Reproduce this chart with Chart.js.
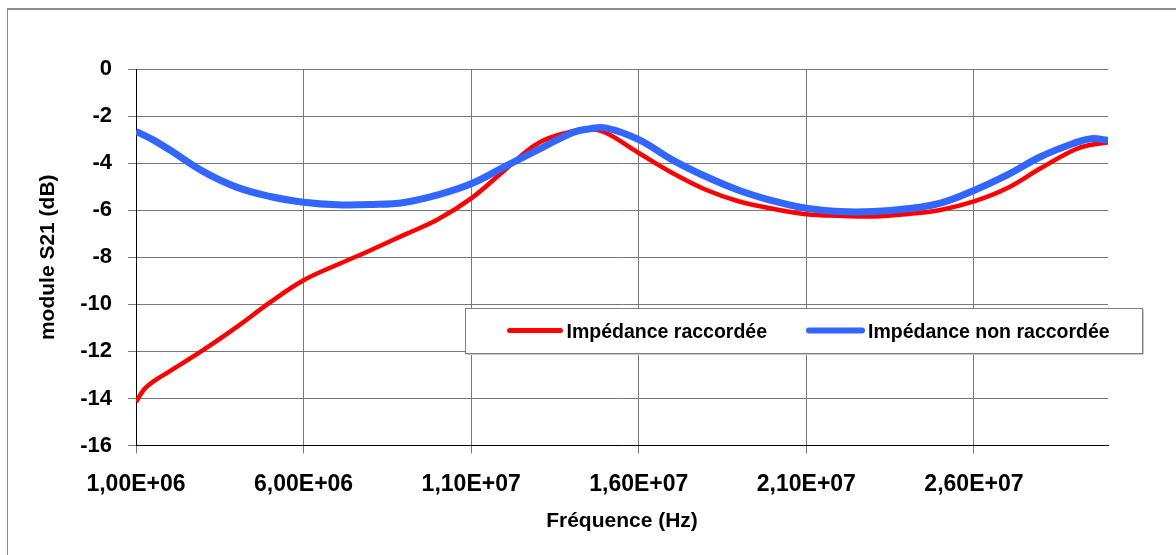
<!DOCTYPE html>
<html><head><meta charset="utf-8">
<script src="https://cdn.jsdelivr.net/npm/chart.js@4"></script>
<style>
html,body{margin:0;padding:0;background:#fff;overflow:hidden;width:1176px;height:555px}
#frame{position:absolute;left:7px;top:8px;width:1300px;height:700px;border-style:solid;border-color:#8c8c8c;border-width:2px 0 0 1px;}
#wrap{position:absolute;left:0;top:0;width:1176px;height:555px}
</style></head><body>
<div id="frame"></div>
<div id="wrap"><canvas id="c" width="1176" height="555"></canvas></div>
<script>
// Frequencies (Hz)
const frequencies = [1e6, 1.25e6, 1.5e6, 2e6, 3e6, 4e6, 5e6, 6e6, 7e6, 8e6, 9e6, 1e7, 1.1e7, 1.2e7, 1.3e7, 1.4e7, 1.45e7, 1.5e7, 1.6e7, 1.7e7, 1.8e7, 1.9e7, 2e7, 2.1e7, 2.2e7, 2.3e7, 2.4e7, 2.5e7, 2.6e7, 2.7e7, 2.8e7, 2.9e7, 2.95e7, 3e7];
// module S21 (dB) - Impédance raccordée
const raccordee = [-14.15, -13.6, -13.3, -12.85, -11.95, -10.97, -9.92, -8.98, -8.32, -7.7, -7.05, -6.4, -5.5, -4.3, -3.15, -2.65, -2.55, -2.7, -3.57, -4.42, -5.13, -5.63, -5.94, -6.17, -6.24, -6.27, -6.17, -5.99, -5.63, -5.06, -4.21, -3.43, -3.22, -3.12];
// module S21 (dB) - Impédance non raccordée
const nonRaccordee = [-2.65, -2.82, -3.0, -3.43, -4.35, -5.02, -5.42, -5.66, -5.77, -5.76, -5.67, -5.35, -4.88, -4.15, -3.43, -2.72, -2.55, -2.5, -3.0, -3.86, -4.57, -5.16, -5.6, -5.92, -6.06, -6.06, -5.94, -5.7, -5.16, -4.5, -3.72, -3.15, -2.96, -3.03];

const seriesNames = ["Impédance raccordée", "Impédance non raccordée"];
const seriesColors = ["#ff0000", "#3366ff"];
const xTickValues = [1e6, 6e6, 1.1e7, 1.6e7, 2.1e7, 2.6e7];
const xTickLabels = ["1,00E+06", "6,00E+06", "1,10E+07", "1,60E+07", "2,10E+07", "2,60E+07"];
const xTitle = "Fréquence (Hz)";
const yTitle = "module S21 (dB)";

const FONT = '"Liberation Sans", Arial, sans-serif';

const toPts = (vals) => frequencies.map((f, i) => ({x: f, y: vals[i]}));

const legendPlugin = {
  id: 'boxLegend',
  afterDraw(chart) {
    const ctx = chart.ctx;
    const bx = 465.5, by = 308.5, bw = 677, bh = 45;
    ctx.save();
    ctx.strokeStyle = '#c8c8c8';
    ctx.lineWidth = 1;
    ctx.beginPath();
    ctx.moveTo(bx + 1, by + bh + 1); ctx.lineTo(bx + bw + 1, by + bh + 1); ctx.lineTo(bx + bw + 1, by + 1);
    ctx.stroke();
    ctx.fillStyle = '#ffffff';
    ctx.fillRect(bx, by, bw, bh);
    ctx.strokeStyle = '#808080';
    ctx.strokeRect(bx, by, bw, bh);
    ctx.font = 'bold 19.5px ' + FONT;
    ctx.textBaseline = 'alphabetic';
    ctx.fillStyle = '#000';
    let x = bx + 42;
    const ly = by + 22;
    chart.data.datasets.forEach((ds, i) => {
      const lineLen = i === 0 ? 55 : 57;
      ctx.strokeStyle = ds.borderColor;
      ctx.lineWidth = i === 0 ? 5 : 6;
      ctx.lineCap = 'round';
      ctx.beginPath();
      ctx.moveTo(x + 2, ly); ctx.lineTo(x + lineLen - 2, ly);
      ctx.stroke();
      x += lineLen + 4;
      ctx.fillText(ds.label, x, by + 29);
      x += ctx.measureText(ds.label).width + 40;
    });
    ctx.restore();
  }
};

new Chart(document.getElementById('c'), {
  type: 'line',
  data: {
    datasets: [
      {label: seriesNames[0], data: toPts(raccordee), borderColor: seriesColors[0], backgroundColor: seriesColors[0], borderWidth: 4.5, pointRadius: 0, tension: 0.4, order: 1},
      {label: seriesNames[1], data: toPts(nonRaccordee), borderColor: seriesColors[1], backgroundColor: seriesColors[1], borderWidth: 7, pointRadius: 0, tension: 0.4, order: 0}
    ]
  },
  options: {
    responsive: false,
    animation: false,
    devicePixelRatio: 1,
    layout: {padding: {left: 20, top: 69, right: 68, bottom: 21}},
    plugins: {legend: {display: false}, tooltip: {enabled: false}},
    scales: {
      x: {
        type: 'linear', min: 1e6, max: 3e7,
        afterBuildTicks: (s) => { s.ticks = xTickValues.map(v => ({value: v})); },
        afterFit: (s) => { s.height = 88.5; },
        ticks: {
          callback: (v, i) => xTickLabels[i],
          font: {family: FONT, size: 23, weight: 'bold'}, color: '#000',
          maxRotation: 0, autoSkip: false, padding: 17
        },
        grid: {color: '#777777', lineWidth: 1, tickLength: 8, drawTicks: true},
        border: {color: '#000000', width: 1},
        title: {display: true, text: xTitle, color: '#000', font: {family: FONT, size: 21, weight: 'bold'}, padding: {top: 15, bottom: 0}}
      },
      y: {
        min: -16, max: 0,
        ticks: {stepSize: 2, callback: (v) => String(v), font: {family: FONT, size: 22, weight: 'bold'}, color: '#000', padding: 16},
        afterFit: (s) => { s.width = 116; },
        grid: {color: '#777777', lineWidth: 1, tickLength: 8, drawTicks: true},
        border: {color: '#000000', width: 1},
        title: {display: true, text: yTitle, color: '#000', font: {family: FONT, size: 21, weight: 'bold'}, padding: {top: 16, bottom: 0}}
      }
    }
  },
  plugins: [legendPlugin]
});
</script>
</body></html>
